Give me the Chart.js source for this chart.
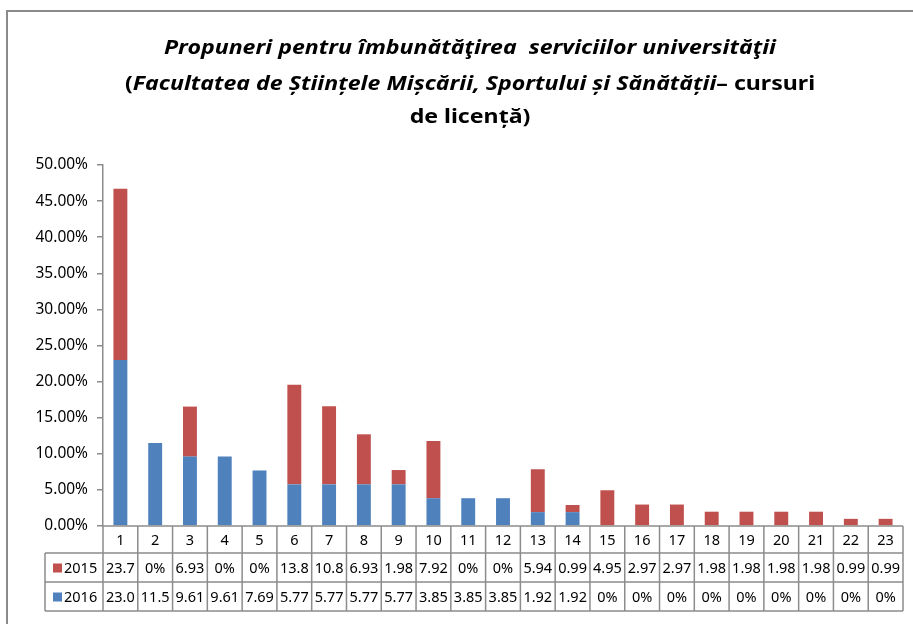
<!DOCTYPE html>
<html>
<head>
<meta charset="utf-8">
<script src="https://cdn.jsdelivr.net/npm/chart.js@4"></script>
<style>
  body { margin: 0; background: #fff; }
  #wrap { width: 913px; height: 624px; position: relative; }
</style>
</head>
<body>
<div id="wrap"><canvas id="chart"></canvas></div>
<script>
// propuneri, numerotate 1..23
const categories = ['1','2','3','4','5','6','7','8','9','10','11','12','13','14','15','16','17','18','19','20','21','22','23'];
// procente pe ani
const values2015 = [23.7, 0, 6.93, 0, 0, 13.8, 10.8, 6.93, 1.98, 7.92, 0, 0, 5.94, 0.99, 4.95, 2.97, 2.97, 1.98, 1.98, 1.98, 1.98, 0.99, 0.99];
const values2016 = [23.0, 11.5, 9.61, 9.61, 7.69, 5.77, 5.77, 5.77, 5.77, 3.85, 3.85, 3.85, 1.92, 1.92, 0, 0, 0, 0, 0, 0, 0, 0, 0];
const yTicks = [0, 5, 10, 15, 20, 25, 30, 35, 40, 45, 50];

const RED = '#C0504D';
const BLUE = '#4F81BD';
const LINE = '#8c8c8c';
const SANS = '"Noto Sans", sans-serif';

function cellText(v) {
    if (v === 0) return '0%';
    return v >= 10 ? v.toFixed(1) : v.toFixed(2);
}

// titlu pe trei randuri, cu fragmente italice
const titleLines = [
    [['Propuneri pentru îmbunătăţirea  serviciilor universităţii', true]],
    [['(', false], ['Facultatea de Științele Mișcării, Sportului și Sănătății', true], ['– cursuri', false]],
    [['de licență)', false]]
];
const TITLE_WIDTH = 612;

const decorPlugin = {
    id: 'decor',
    beforeDraw(chart) {
        const ctx = chart.ctx;
        ctx.save();
        // rama exterioara
        ctx.strokeStyle = '#8a8a8a';
        ctx.lineWidth = 2;
        ctx.strokeRect(7, 11, 1000, 1000);
        // rand de deasupra (taiat)
        ctx.fillStyle = '#000';
        ctx.font = 'bold italic 22px "Liberation Serif", serif';
        ctx.textAlign = 'center';
        ctx.textBaseline = 'alphabetic';
        ctx.fillText('Propuneri, anii 2015–2016, grafic', 450, -5);
        ctx.restore();

        // titlu, usor latit pe orizontala
        ctx.save();
        ctx.fillStyle = '#000';
        ctx.textBaseline = 'middle';
        ctx.textAlign = 'left';
        const widths = titleLines.map(segs => segs.reduce((w, [t, it]) => {
            ctx.font = (it ? 'italic ' : '') + 'bold 19.5px ' + SANS;
            return w + ctx.measureText(t).width;
        }, 0));
        const sx = TITLE_WIDTH / widths[0];
        const ys = [48, 84, 117];
        titleLines.forEach((segs, li) => {
            ctx.save();
            ctx.translate(470 - widths[li] * sx / 2, ys[li]);
            ctx.scale(sx, 1);
            let x = 0;
            segs.forEach(([t, it]) => {
                ctx.font = (it ? 'italic ' : '') + 'bold 19.5px ' + SANS;
                ctx.fillText(t, x, 0);
                x += ctx.measureText(t).width;
            });
            ctx.restore();
        });
        ctx.restore();
    },
    afterDraw(chart) {
        const ctx = chart.ctx;
        const area = chart.chartArea;
        const xs = chart.scales.x;
        const colW = (area.right - area.left) / categories.length;
        const rows = [area.bottom, area.bottom + 27, area.bottom + 56, area.bottom + 85];
        const legendLeft = 45;

        ctx.save();
        ctx.strokeStyle = LINE;
        ctx.lineWidth = 1.5;
        ctx.beginPath();
        // axa x
        ctx.moveTo(area.left, rows[0]);
        ctx.lineTo(area.right, rows[0]);
        for (let r = 1; r < rows.length; r++) {
            ctx.moveTo(legendLeft, rows[r]);
            ctx.lineTo(area.right, rows[r]);
        }
        for (let i = 0; i <= categories.length; i++) {
            const x = area.left + i * colW;
            ctx.moveTo(x, rows[0]);
            ctx.lineTo(x, rows[3]);
        }
        ctx.moveTo(legendLeft, rows[1]);
        ctx.lineTo(legendLeft, rows[3]);
        ctx.stroke();

        ctx.fillStyle = '#000';
        ctx.font = '14.5px ' + SANS;
        ctx.textAlign = 'center';
        ctx.textBaseline = 'middle';
        categories.forEach((c, i) => {
            const cx = xs.getPixelForValue(i);
            ctx.fillText(c, cx, (rows[0] + rows[1]) / 2 + 1);
            ctx.fillText(cellText(values2015[i]), cx, (rows[1] + rows[2]) / 2 + 1);
            ctx.fillText(cellText(values2016[i]), cx, (rows[2] + rows[3]) / 2 + 1);
        });

        // legenda in tabel
        const legend = [['2015', RED], ['2016', BLUE]];
        legend.forEach(([label, color], k) => {
            const cy = (rows[k + 1] + rows[k + 2]) / 2;
            ctx.fillStyle = color;
            ctx.fillRect(legendLeft + 8, cy - 4, 9, 9);
            ctx.fillStyle = '#000';
            ctx.textAlign = 'left';
            ctx.fillText(label, legendLeft + 19, cy + 1);
        });
        ctx.restore();
    }
};

new Chart(document.getElementById('chart'), {
    type: 'bar',
    data: {
        labels: categories,
        datasets: [
            { label: '2016', data: values2016, backgroundColor: BLUE, barPercentage: 0.4, categoryPercentage: 1 },
            { label: '2015', data: values2015, backgroundColor: RED, barPercentage: 0.4, categoryPercentage: 1 }
        ]
    },
    options: {
        responsive: true,
        maintainAspectRatio: false,
        animation: false,
        events: [],
        layout: { padding: { left: 0, top: 165, right: 10, bottom: 98 } },
        plugins: {
            legend: { display: false },
            title: { display: false },
            tooltip: { enabled: false }
        },
        scales: {
            x: { stacked: true, display: false },
            y: {
                stacked: true,
                min: 0,
                max: 50,
                afterFit(scale) { scale.width = 103; },
                afterBuildTicks(scale) { scale.ticks = yTicks.map(v => ({ value: v })); },
                ticks: {
                    color: '#000',
                    padding: 9,
                    font: { family: SANS, size: 15.5 },
                    callback: v => v.toFixed(2) + '%'
                },
                grid: { drawOnChartArea: false, tickLength: 6, color: LINE, lineWidth: 1.5 },
                border: { color: LINE, width: 1.5 }
            }
        }
    },
    plugins: [decorPlugin]
});
</script>
</body>
</html>
